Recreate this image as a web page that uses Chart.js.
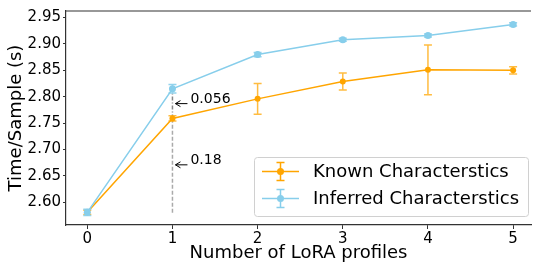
<!DOCTYPE html>
<html>
<head>
<meta charset="utf-8">
<script src="https://cdn.jsdelivr.net/npm/chart.js@4/dist/chart.umd.min.js"></script>
<style>
  html, body { margin: 0; padding: 0; background: #fff; }
  #wrap { width: 535px; height: 266px; }
</style>
</head>
<body>
<div id="wrap"><canvas id="chart" width="535" height="266"></canvas></div>
<script>
const xValues = [0, 1, 2, 3, 4, 5];
const knownMean = [2.581, 2.759, 2.796, 2.829, 2.851, 2.850];
const knownErr = [0.004, 0.005, 0.029, 0.016, 0.047, 0.007];
const inferredMean = [2.581, 2.815, 2.880, 2.908, 2.916, 2.937];
const inferredErr = [0.006, 0.008, 0.004, 0.003, 0.003, 0.003];
const seriesLabels = ['Known Characterstics', 'Inferred Characterstics'];
const xTicks = [0, 1, 2, 3, 4, 5];
const yTicks = [2.60, 2.65, 2.70, 2.75, 2.80, 2.85, 2.90, 2.95];
const gapLabels = ['0.056', '0.18'];
const gapY = [2.787, 2.671];

const ORANGE = '#ffa500';
const SKY = '#87ceeb';
const FONT = '"DejaVu Sans", sans-serif';

const errorBars = {
  id: 'errorBars',
  afterDatasetDraw(chart, args) {
    const ds = chart.data.datasets[args.index];
    const { ctx, scales: { x, y } } = chart;
    ctx.save();
    ctx.strokeStyle = ds.errColor;
    ctx.lineWidth = 1.5;
    ds.errors.forEach((e, i) => {
      const px = x.getPixelForValue(xValues[i]);
      const top = y.getPixelForValue(ds.data[i].y + e);
      const bot = y.getPixelForValue(ds.data[i].y - e);
      ctx.beginPath();
      ctx.moveTo(px, top); ctx.lineTo(px, bot);
      ctx.moveTo(px - 4, top); ctx.lineTo(px + 4, top);
      ctx.moveTo(px - 4, bot); ctx.lineTo(px + 4, bot);
      ctx.stroke();
    });
    ctx.restore();
  }
};

const extras = {
  id: 'extras',
  beforeDatasetsDraw(chart) {
    const { ctx, scales: { x, y } } = chart;
    const px = x.getPixelForValue(1);
    ctx.save();
    ctx.lineWidth = 1.5;
    ctx.strokeStyle = '#aaaaaa';
    ctx.setLineDash([4, 2]);
    ctx.beginPath();
    ctx.moveTo(px, y.getPixelForValue(2.58));
    ctx.lineTo(px, y.getPixelForValue(knownMean[1]));
    ctx.stroke();
    ctx.strokeStyle = '#888888';
    ctx.setLineDash([4, 2, 1, 2]);
    ctx.beginPath();
    ctx.moveTo(px, y.getPixelForValue(knownMean[1]));
    ctx.lineTo(px, y.getPixelForValue(inferredMean[1]));
    ctx.stroke();
    ctx.restore();
  },
  afterDraw(chart) {
    const { ctx, chartArea: ca, scales: { x, y } } = chart;
    const px = x.getPixelForValue(1);
    ctx.save();
    // top frame line
    ctx.strokeStyle = '#333';
    ctx.lineWidth = 1.2;
    ctx.beginPath();
    ctx.moveTo(ca.left, ca.top);
    ctx.lineTo(ca.right, ca.top);
    ctx.stroke();

    // gap annotations
    ctx.fillStyle = '#000';
    ctx.strokeStyle = '#000';
    ctx.lineWidth = 1;
    ctx.font = '14px ' + FONT;
    ctx.textBaseline = 'middle';
    gapLabels.forEach((lab, i) => {
      const py = y.getPixelForValue(gapY[i]);
      ctx.beginPath();
      ctx.moveTo(px + 15, py);
      ctx.lineTo(px + 3, py);
      ctx.moveTo(px + 8, py - 3);
      ctx.lineTo(px + 3, py);
      ctx.lineTo(px + 8, py + 3);
      ctx.stroke();
      ctx.fillText(lab, px + 18, py - 4);
    });

    // legend
    const lx = 254, ly = 157, lw = 274, lh = 59;
    ctx.fillStyle = 'rgba(255,255,255,0.8)';
    ctx.strokeStyle = '#d0d0d0';
    ctx.beginPath();
    ctx.roundRect(lx + 0.5, ly + 0.5, lw, lh, 3);
    ctx.fill();
    ctx.stroke();
    const colors = [ORANGE, SKY];
    const rows = [171.5, 198.5];
    ctx.font = '18px ' + FONT;
    rows.forEach((ry, i) => {
      ctx.strokeStyle = colors[i];
      ctx.fillStyle = colors[i];
      ctx.lineWidth = 1.5;
      ctx.beginPath();
      ctx.moveTo(262, ry); ctx.lineTo(299, ry);
      ctx.moveTo(280.5, ry - 9); ctx.lineTo(280.5, ry + 9);
      ctx.moveTo(276.5, ry - 9); ctx.lineTo(284.5, ry - 9);
      ctx.moveTo(276.5, ry + 9); ctx.lineTo(284.5, ry + 9);
      ctx.stroke();
      ctx.beginPath();
      ctx.arc(280.5, ry, 3.5, 0, Math.PI * 2);
      ctx.fill();
      ctx.fillStyle = '#000';
      ctx.fillText(seriesLabels[i], 313, ry + 1);
    });
    ctx.restore();
  }
};

const ctx = document.getElementById('chart').getContext('2d');
new Chart(ctx, {
  type: 'line',
  data: {
    datasets: [
      {
        label: seriesLabels[0],
        data: xValues.map((v, i) => ({ x: v, y: knownMean[i] })),
        errors: knownErr,
        errColor: 'rgba(255,165,0,0.75)',
        borderColor: ORANGE,
        backgroundColor: ORANGE,
        borderWidth: 1.5,
        pointRadius: 3,
        pointBorderWidth: 0,
        tension: 0,
        order: 2
      },
      {
        label: seriesLabels[1],
        data: xValues.map((v, i) => ({ x: v, y: inferredMean[i] })),
        errors: inferredErr,
        errColor: 'rgba(135,206,235,0.9)',
        borderColor: SKY,
        backgroundColor: SKY,
        borderWidth: 1.5,
        pointRadius: 3.5,
        pointBorderWidth: 0,
        tension: 0,
        order: 1
      }
    ]
  },
  options: {
    responsive: false,
    animation: false,
    layout: { padding: { top: 8, right: 1, left: 0, bottom: 0 } },
    plugins: { legend: { display: false }, tooltip: { enabled: false } },
    scales: {
      x: {
        type: 'linear',
        min: -0.25,
        max: 5.21,
        afterBuildTicks: s => { s.ticks = xTicks.map(v => ({ value: v })); },
        afterFit: s => { s.height = 41; },
        ticks: { color: '#000', font: { family: FONT, size: 15 }, padding: 1, callback: v => String(v) },
        grid: { drawOnChartArea: false, drawTicks: true, tickLength: 4, color: '#333' },
        border: { display: true, color: '#333', width: 1.2 },
        title: { display: true, text: 'Number of LoRA profiles', color: '#000', font: { family: FONT, size: 18, lineHeight: 1.2 }, padding: { top: 2, bottom: 2 } }
      },
      y: {
        min: 2.557,
        max: 2.9625,
        afterBuildTicks: s => { s.ticks = yTicks.map(v => ({ value: v })); },
        afterFit: s => { s.width = 66; },
        ticks: { color: '#000', font: { family: FONT, size: 15 }, padding: 2, callback: v => v.toFixed(2) },
        grid: { drawOnChartArea: false, drawTicks: true, tickLength: 3, color: '#333' },
        border: { display: true, color: '#333', width: 1.2 },
        title: { display: true, text: 'Time/Sample (s)', color: '#000', font: { family: FONT, size: 18, lineHeight: 1.2 }, padding: { top: 6, bottom: 0 } }
      }
    }
  },
  plugins: [errorBars, extras]
});
</script>
</body>
</html>
